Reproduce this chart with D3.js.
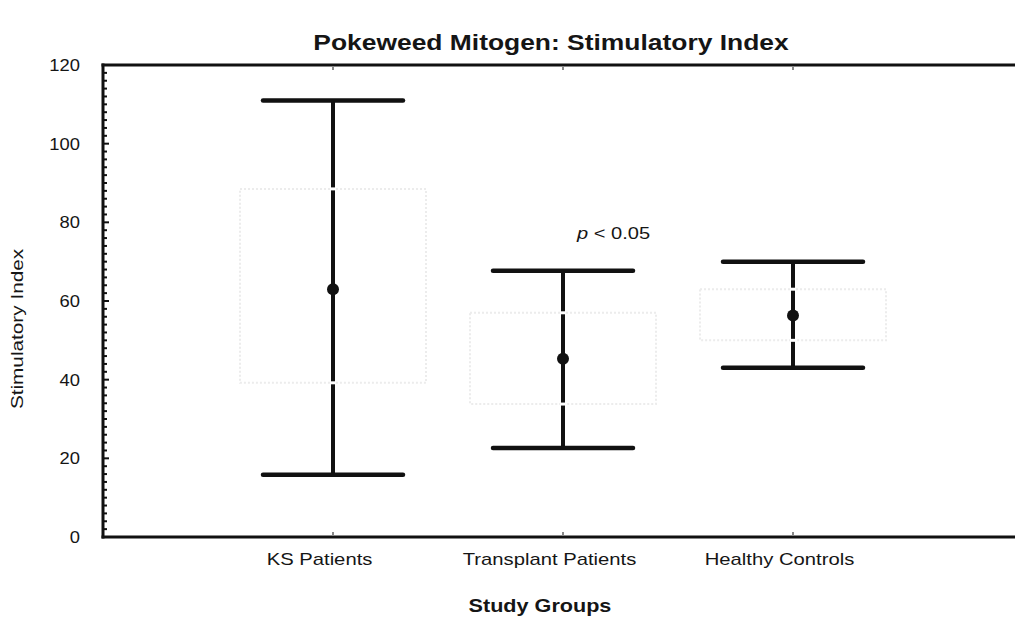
<!DOCTYPE html>
<html>
<head>
<meta charset="utf-8">
<script src="https://cdn.jsdelivr.net/npm/d3@7"></script>
<style>
  html, body { margin: 0; padding: 0; background: #fff; }
  svg { display: block; }
  text { font-family: Arial, "Liberation Sans", Helvetica, sans-serif; fill: #151515; }
</style>
</head>
<body>
<svg id="chart" width="1015" height="621"></svg>
<script>
// Study groups and their summary statistics (Stimulatory Index)
const groups = ["KS Patients", "Transplant Patients", "Healthy Controls"];
const means = [63, 45.3, 56.3];
const whiskerLow = [15.8, 22.6, 43];
const whiskerHigh = [111, 67.7, 70];
const boxLow = [39.2, 33.8, 50];
const boxHigh = [88.5, 57, 63];
const yTicks = [0, 20, 40, 60, 80, 100, 120];
const minorTicks = d3.range(0, 121, 2);

const svg = d3.select("#chart");
const plotLeft = 103, plotRight = 1020, plotTop = 65, plotBottom = 537;

const y = d3.scaleLinear().domain([0, 120]).range([plotBottom, plotTop]);
const x = d3.scalePoint().domain(groups).range([333, 793]);

const capHalf = 70;   // half width of whisker caps
const boxHalf = 93;   // half width of the faint box outline

// Stretch a text element horizontally (the figure is set in a wide face)
function widen(sel, factor) {
  sel.each(function () {
    const t = d3.select(this);
    const w = this.getComputedTextLength();
    t.attr("textLength", w * factor).attr("lengthAdjust", "spacingAndGlyphs");
  });
}

// Title
svg.append("text")
  .attr("x", 551).attr("y", 50)
  .attr("text-anchor", "middle")
  .style("font-size", "22px").style("font-weight", "bold")
  .text("Pokeweed Mitogen: Stimulatory Index")
  .call(widen, 1.20);

// Faint dotted box outlines behind the error bars
const boxes = svg.append("g");
groups.forEach((g, i) => {
  boxes.append("rect")
    .attr("x", x(g) - boxHalf)
    .attr("y", y(boxHigh[i]))
    .attr("width", boxHalf * 2)
    .attr("height", y(boxLow[i]) - y(boxHigh[i]))
    .attr("fill", "none")
    .attr("stroke", "#ececec")
    .attr("stroke-width", 2)
    .attr("stroke-dasharray", "2,2");
});

// Minor ticks on the left axis (inward)
svg.append("g").selectAll("line").data(minorTicks).join("line")
  .attr("x1", plotLeft).attr("x2", d => plotLeft + (d % 20 === 0 ? 6 : 4))
  .attr("y1", d => y(d)).attr("y2", d => y(d))
  .attr("stroke", "#111").attr("stroke-width", 2);

// Left axis with labels
const yAxis = svg.append("g")
  .attr("transform", `translate(${plotLeft},0)`)
  .call(d3.axisLeft(y).tickValues(yTicks).tickSize(0).tickPadding(23));
yAxis.select(".domain").remove();
yAxis.selectAll("text")
  .style("font-size", "17px")
  .style("font-family", "Arial, 'Liberation Sans', sans-serif")
  .attr("fill", "#222")
  .call(widen, 1.08);

// Frame lines: left, top, bottom
svg.append("line").attr("x1", plotLeft).attr("x2", plotLeft).attr("y1", plotTop - 1.5).attr("y2", plotBottom + 1.5)
  .attr("stroke", "#111").attr("stroke-width", 3);
svg.append("line").attr("x1", plotLeft - 1.5).attr("x2", plotRight).attr("y1", plotTop).attr("y2", plotTop)
  .attr("stroke", "#111").attr("stroke-width", 3);
svg.append("line").attr("x1", plotLeft - 1.5).attr("x2", plotRight).attr("y1", plotBottom).attr("y2", plotBottom)
  .attr("stroke", "#111").attr("stroke-width", 3);

// Small category ticks along top and bottom
groups.forEach(g => {
  svg.append("line").attr("x1", x(g)).attr("x2", x(g)).attr("y1", plotTop + 1).attr("y2", plotTop + 5)
    .attr("stroke", "#888").attr("stroke-width", 2);
  svg.append("line").attr("x1", x(g)).attr("x2", x(g)).attr("y1", plotBottom - 1).attr("y2", plotBottom - 5)
    .attr("stroke", "#888").attr("stroke-width", 2);
});

// Bottom axis labels
const xAxis = svg.append("g")
  .attr("transform", `translate(0,${plotBottom})`)
  .call(d3.axisBottom(x).tickSize(0).tickPadding(16));
xAxis.select(".domain").remove();
xAxis.selectAll("text")
  .attr("dx", -14)
  .style("font-size", "17px")
  .style("font-family", "Arial, 'Liberation Sans', sans-serif")
  .attr("fill", "#222")
  .call(widen, 1.19);

// Error bars
const bars = svg.append("g");
groups.forEach((g, i) => {
  const cx = x(g);
  bars.append("line")
    .attr("x1", cx).attr("x2", cx)
    .attr("y1", y(whiskerHigh[i])).attr("y2", y(whiskerLow[i]))
    .attr("stroke", "#111").attr("stroke-width", 4);
  [whiskerHigh[i], whiskerLow[i]].forEach(v => {
    bars.append("line")
      .attr("x1", cx - capHalf).attr("x2", cx + capHalf)
      .attr("y1", y(v)).attr("y2", y(v))
      .attr("stroke", "#111").attr("stroke-width", 4.5)
      .attr("stroke-linecap", "round");
  });
  // small gaps in the stem where the box edges cross it
  [boxHigh[i], boxLow[i]].forEach(v => {
    bars.append("line")
      .attr("x1", cx - 3).attr("x2", cx + 3)
      .attr("y1", y(v)).attr("y2", y(v))
      .attr("stroke", "#fff").attr("stroke-width", 3);
  });
  bars.append("circle")
    .attr("cx", cx).attr("cy", y(means[i]))
    .attr("r", 6).attr("fill", "#111");
});

// Significance note
const pText = svg.append("text")
  .attr("x", 577).attr("y", 239)
  .style("font-size", "17px");
pText.append("tspan").style("font-style", "italic").text("p");
pText.append("tspan").text(" < 0.05");
pText.call(widen, 1.18);

// Axis titles
svg.append("text")
  .attr("transform", "translate(23,329) rotate(-90)")
  .attr("text-anchor", "middle")
  .style("font-size", "17px")
  .text("Stimulatory Index")
  .call(widen, 1.22);

svg.append("text")
  .attr("x", 540).attr("y", 612)
  .attr("text-anchor", "middle")
  .style("font-size", "18px").style("font-weight", "bold")
  .text("Study Groups")
  .call(widen, 1.2);
</script>
</body>
</html>
